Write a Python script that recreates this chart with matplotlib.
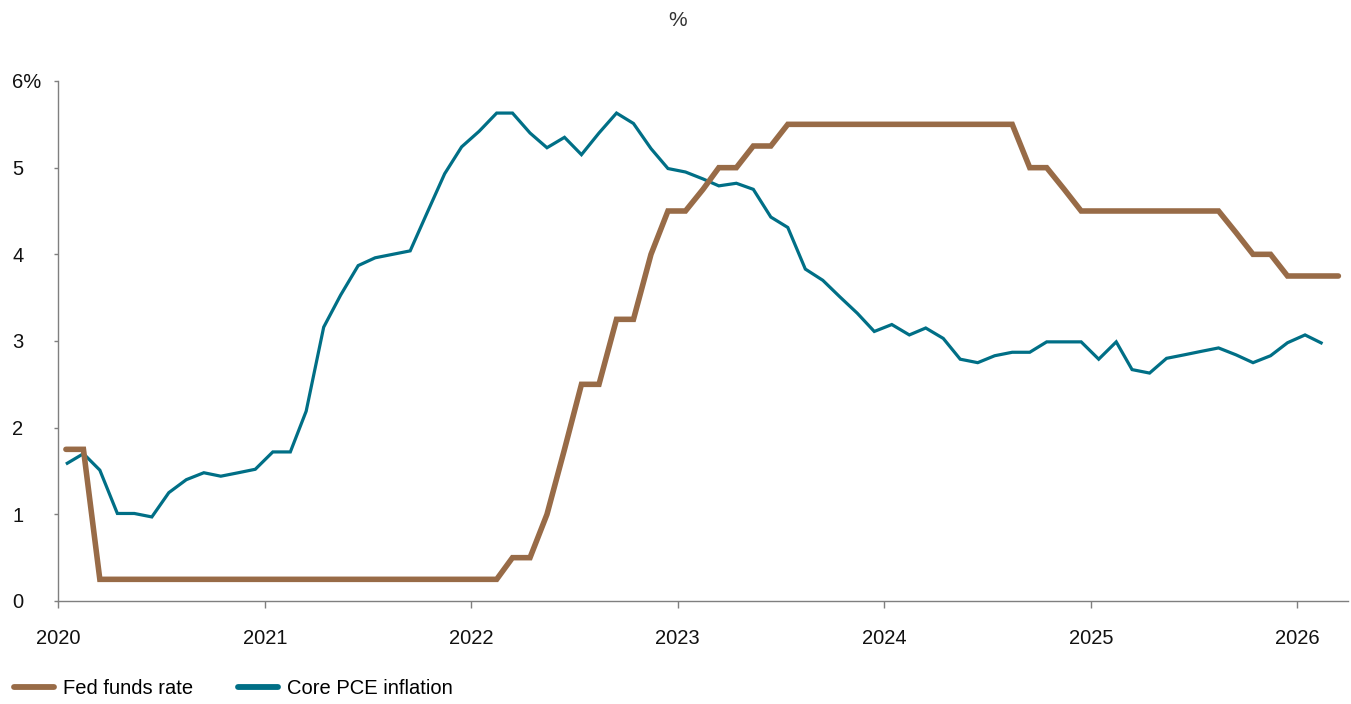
import matplotlib
matplotlib.use("Agg")
import matplotlib.pyplot as plt
from matplotlib import font_manager
import pandas as pd

# monthly data, Jan 2020 onwards
fed_funds = [
    1.75, 1.75, 0.25, 0.25, 0.25, 0.25, 0.25, 0.25, 0.25, 0.25, 0.25, 0.25,   # 2020
    0.25, 0.25, 0.25, 0.25, 0.25, 0.25, 0.25, 0.25, 0.25, 0.25, 0.25, 0.25,   # 2021
    0.25, 0.25, 0.50, 0.50, 1.00, 1.75, 2.50, 2.50, 3.25, 3.25, 4.00, 4.50,   # 2022
    4.50, 4.75, 5.00, 5.00, 5.25, 5.25, 5.50, 5.50, 5.50, 5.50, 5.50, 5.50,   # 2023
    5.50, 5.50, 5.50, 5.50, 5.50, 5.50, 5.50, 5.50, 5.00, 5.00, 4.75, 4.50,   # 2024
    4.50, 4.50, 4.50, 4.50, 4.50, 4.50, 4.50, 4.50, 4.25, 4.00, 4.00, 3.75,   # 2025
    3.75, 3.75, 3.75,                                                         # 2026
]
core_pce = [
    1.58, 1.70, 1.51, 1.01, 1.01, 0.97, 1.25, 1.40, 1.48, 1.44, 1.48, 1.52,   # 2020
    1.72, 1.72, 2.19, 3.16, 3.53, 3.87, 3.96, 4.00, 4.04, 4.48, 4.93, 5.24,   # 2021
    5.42, 5.63, 5.63, 5.40, 5.23, 5.35, 5.15, 5.40, 5.63, 5.51, 5.22, 4.99,   # 2022
    4.95, 4.87, 4.79, 4.82, 4.75, 4.43, 4.31, 3.83, 3.70, 3.51, 3.32, 3.11,   # 2023
    3.19, 3.07, 3.15, 3.03, 2.79, 2.75, 2.83, 2.87, 2.87, 2.99, 2.99, 2.99,   # 2024
    2.79, 2.99, 2.67, 2.63, 2.80, 2.84, 2.88, 2.92, 2.84, 2.75, 2.83, 2.98,   # 2025
    3.07, 2.97,                                                               # 2026
]
series_names = ["Fed funds rate", "Core PCE inflation"]
y_ticks = [0, 1, 2, 3, 4, 5, 6]
y_labels = ["0", "1", "2", "3", "4", "5", "6%"]
x_years = [2020, 2021, 2022, 2023, 2024, 2025, 2026]

BROWN = "#986b47"
TEAL = "#006f86"
AXIS_GREY = "#7f7f7f"

installed = {f.name for f in font_manager.fontManager.ttflist}
font = "Liberation Sans Narrow" if "Liberation Sans Narrow" in installed else "Liberation Sans"
plt.rcParams["font.family"] = [font, "DejaVu Sans"]

# points sit mid-month
dates_ff = pd.date_range("2020-01-01", periods=len(fed_funds), freq="MS") + pd.Timedelta(days=14)
dates_pce = pd.date_range("2020-01-01", periods=len(core_pce), freq="MS") + pd.Timedelta(days=14)

fig = plt.figure(figsize=(13.51, 7.04), dpi=100)
ax = fig.add_axes([58 / 1351, 1 - 601 / 704, (1348 - 58) / 1351, (601 - 81) / 704])

l1, = ax.plot(dates_ff, fed_funds, color=BROWN, lw=4.0, solid_capstyle="round",
              solid_joinstyle="miter", label=series_names[0], zorder=3)
l2, = ax.plot(dates_pce, core_pce, color=TEAL, lw=2.3, solid_capstyle="butt",
              solid_joinstyle="miter", label=series_names[1], zorder=2)

ax.set_ylim(0, 6)
ax.set_xlim(pd.Timestamp("2020-01-01"), pd.Timestamp("2026-04-01"))

ax.set_yticks(y_ticks)
ax.set_yticklabels(y_labels)
ax.set_xticks([pd.Timestamp(f"{y}-01-01") for y in x_years])
ax.set_xticklabels([str(y) for y in x_years])

for side in ["top", "right"]:
    ax.spines[side].set_visible(False)
for side in ["left", "bottom"]:
    ax.spines[side].set_color(AXIS_GREY)
    ax.spines[side].set_linewidth(1.0)

ax.tick_params(axis="y", length=3, width=1, color=AXIS_GREY, pad=30, labelsize=14.5, labelcolor="#111111")
ax.tick_params(axis="x", length=5, width=1, color=AXIS_GREY, pad=15, labelsize=14.5, labelcolor="#111111")
for lab in ax.get_yticklabels():
    lab.set_horizontalalignment("left")

fig.text(678 / 1351, 1 - 20 / 704, "%", ha="center", va="center", fontsize=15, color="#333333")

fig.legend(handles=[l1, l2], labels=series_names, loc="center left",
           bbox_to_anchor=(14 / 1351, 1 - 689 / 704), ncol=2, frameon=False,
           borderpad=0, borderaxespad=0,
           fontsize=14.5, handlelength=2.0, columnspacing=2.2, handletextpad=0.45)
for line in fig.legends[0].get_lines():
    line.set_solid_capstyle("round")
    line.set_linewidth(4.2)

fig.savefig("out.png", dpi=100)
